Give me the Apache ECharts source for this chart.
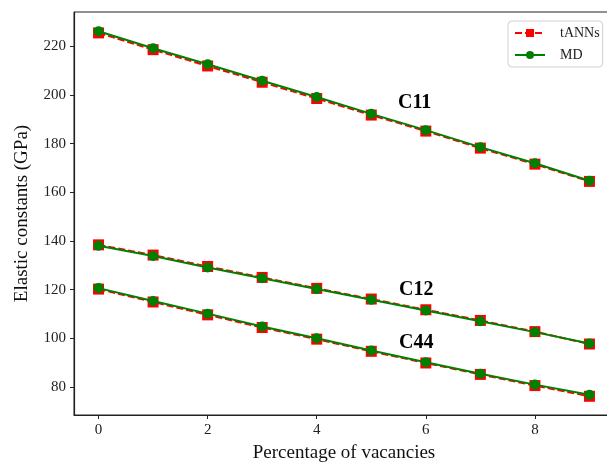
<!DOCTYPE html>
<html>
<head>
<meta charset="utf-8">
<script src="https://cdn.jsdelivr.net/npm/echarts@6/dist/echarts.min.js"></script>
<style>
  html, body { margin: 0; padding: 0; background: #fff; }
  #chart { width: 607px; height: 462px; }
</style>
</head>
<body>
<div id="chart"></div>
<script>
// percentage of vacancies
const vacancies = [0, 1, 2, 3, 4, 5, 6, 7, 8, 9]

// elastic constants (GPa)
const c11Ann = [225.6, 218.7, 212.0, 205.3, 198.6, 191.8, 185.2, 178.2, 171.6, 164.5]
const c11Md  = [226.3, 219.3, 212.7, 205.9, 199.2, 192.3, 185.6, 178.6, 172.0, 164.8]
const c12Ann = [138.4, 134.2, 129.5, 125.0, 120.5, 116.1, 111.7, 107.3, 102.7, 97.6]
const c12Md  = [138.0, 133.8, 129.1, 124.7, 120.2, 115.8, 111.4, 107.0, 102.5, 97.8]
const c44Ann = [120.2, 114.9, 109.6, 104.4, 99.6, 94.6, 89.8, 85.1, 80.5, 76.1]
const c44Md  = [120.6, 115.3, 110.1, 104.8, 100.0, 94.9, 90.1, 85.4, 80.9, 76.7]

const xTicks = [0, 2, 4, 6, 8]
const yTicks = [80, 100, 120, 140, 160, 180, 200, 220]

const RED = '#ff0000'
const GREEN = '#008000'
const FONT = 'Liberation Serif'

const pairs = ys => vacancies.map((x, i) => [x, ys[i]])

function annSeries(ys) {
  return {
    name: 'tANNs',
    type: 'line',
    data: pairs(ys),
    symbol: 'rect',
    symbolSize: 11,
    itemStyle: { color: RED },
    lineStyle: { color: RED, width: 2, type: [7, 3] },
    z: 2
  }
}

function mdSeries(ys) {
  return {
    name: 'MD',
    type: 'line',
    data: pairs(ys),
    symbol: 'circle',
    symbolSize: 10,
    itemStyle: { color: GREEN },
    lineStyle: { color: GREEN, width: 2 },
    z: 3
  }
}

const chart = echarts.init(document.getElementById('chart'))

const labelText = (txt, x, y) => ({
  type: 'text',
  left: x,
  top: y,
  style: {
    text: txt,
    font: 'bold 20px "' + FONT + '"',
    fill: '#000'
  }
})

chart.setOption({
  animation: false,
  backgroundColor: '#fff',
  grid: {
    left: 74,
    right: -7,
    top: 12,
    bottom: 47,
    outerBoundsMode: 'none',
    containLabel: false,
    show: true,
    borderColor: '#222',
    borderWidth: 1
  },
  legend: {
    left: 508,
    top: 21,
    orient: 'vertical',
    itemWidth: 30,
    itemHeight: 10,
    itemGap: 8,
    padding: [5, 3, 5, 6],
    borderColor: '#d0d0d0',
    borderWidth: 1,
    borderRadius: 4,
    textStyle: { fontFamily: FONT, fontSize: 14, color: '#222', padding: [0, 0, 0, 10] },
    data: ['tANNs', 'MD']
  },
  xAxis: {
    type: 'value',
    min: -0.45,
    max: 9.45,
    name: 'Percentage of vacancies',
    nameLocation: 'middle',
    nameGap: 29,
    nameTextStyle: { fontFamily: FONT, fontSize: 19, color: '#111' },
    splitLine: { show: false },
    axisLine: { onZero: false, lineStyle: { color: '#222', width: 1.2 } },
    axisTick: { length: 4, lineStyle: { color: '#222' }, customValues: xTicks },
    axisLabel: { fontFamily: FONT, fontSize: 15, color: '#222', margin: 8, customValues: xTicks }
  },
  yAxis: {
    type: 'value',
    min: 68.4,
    max: 234.2,
    name: 'Elastic constants (GPa)',
    nameLocation: 'middle',
    nameGap: 42,
    nameTextStyle: { fontFamily: FONT, fontSize: 19, color: '#111' },
    splitLine: { show: false },
    axisLine: { show: true, onZero: false, lineStyle: { color: '#222', width: 1.2 } },
    axisTick: { show: true, length: 4, lineStyle: { color: '#222' }, customValues: yTicks },
    axisLabel: { fontFamily: FONT, fontSize: 15, color: '#222', margin: 8, customValues: yTicks }
  },
  series: [
    annSeries(c11Ann), mdSeries(c11Md),
    annSeries(c12Ann), mdSeries(c12Md),
    annSeries(c44Ann), mdSeries(c44Md)
  ],
  graphic: [
    labelText('C11', 398, 93),
    labelText('C12', 399, 280),
    labelText('C44', 399, 333)
  ]
})
</script>
</body>
</html>
